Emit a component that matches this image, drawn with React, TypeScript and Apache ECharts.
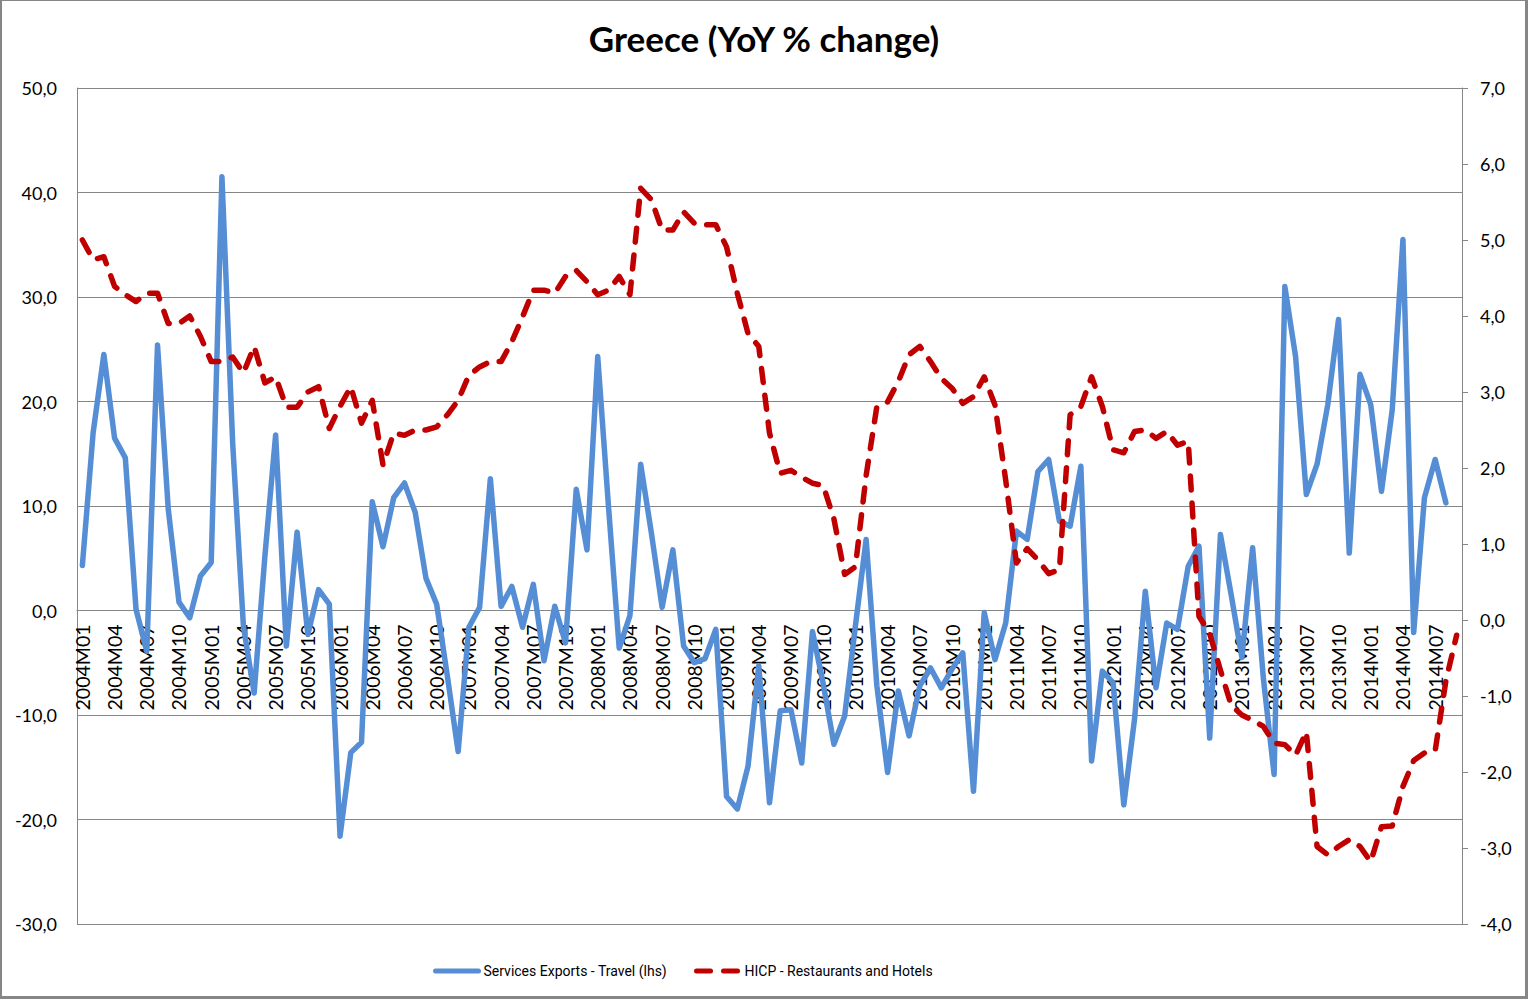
import React, { useEffect, useRef } from "react";
import * as echarts from "echarts";

// Monthly categories 2004M01 .. 2014M09
const START_YEAR = 2004;
const MONTH_COUNT = 129;
const categories: string[] = [];
for (let k = 0; k < MONTH_COUNT; k++) {
  const y = START_YEAR + Math.floor(k / 12);
  const m = (k % 12) + 1;
  categories.push(`${y}M${m < 10 ? "0" : ""}${m}`);
}

// Services Exports - Travel, YoY % (left axis), 2004M01 .. 2014M08
const travelExports = [
  4.3, 17.0, 24.5, 16.5, 14.6, 0.1, -3.9, 25.4, 9.7, 0.8, -0.7, 3.3,
  4.6, 41.5, 16.0, -1.5, -7.9, 5.2, 16.8, -3.4, 7.5, -2.3, 2.0, 0.6,
  -21.6, -13.6, -12.6, 10.4, 6.1, 10.8, 12.2, 9.4, 3.1, 0.6, -6.3, -13.5,
  -1.6, 0.3, 12.6, 0.4, 2.3, -1.6, 2.5, -4.8, 0.4, -3.1, 11.6, 5.8,
  24.3, 10.0, -3.6, -0.5, 14.0, 7.4, 0.3, 5.8, -3.4, -5.0, -4.6, -1.8,
  -17.8, -19.0, -14.9, -5.3, -18.4, -9.6, -9.5, -14.6, -2.0, -7.0, -12.8, -10.1,
  -1.5, 6.8, -7.2, -15.5, -7.7, -12.0, -7.2, -5.5, -7.4, -5.6, -4.05, -17.3,
  -0.2, -4.7, -1.2, 7.6, 6.8, 13.3, 14.45, 8.55, 8.07, 13.8, -14.4, -5.8,
  -6.9, -18.6, -10.4, 1.85, -7.4, -1.2, -1.8, 4.24, 6.15, -12.2, 7.27, 1.5,
  -4.5, 6.0, -6.5, -15.7, 31.0, 24.3, 11.1, 14.0, 19.7, 27.85, 5.5, 22.6,
  19.7, 11.4, 19.2, 35.5, -2.1, 10.8, 14.45, 10.3,
];

// HICP - Restaurants and Hotels, YoY % (right axis), 2004M01 .. 2014M09
const hicpRestaurants = [
  5.0, 4.74, 4.78, 4.39, 4.28, 4.19, 4.3, 4.3, 3.9, 3.9, 4.0, 3.73,
  3.4, 3.4, 3.46, 3.25, 3.6, 3.12, 3.2, 2.8, 2.8, 3.0, 3.07, 2.52,
  2.81, 3.07, 2.59, 2.89, 2.04, 2.46, 2.43, 2.5, 2.5, 2.54, 2.7, 2.89,
  3.22, 3.33, 3.4, 3.4, 3.66, 3.99, 4.34, 4.34, 4.3, 4.52, 4.6, 4.45,
  4.28, 4.34, 4.52, 4.28, 5.68, 5.53, 5.13, 5.13, 5.37, 5.22, 5.2, 5.2,
  4.91, 4.3, 3.77, 3.6, 2.46, 1.93, 1.97, 1.88, 1.8, 1.77, 1.33, 0.6,
  0.7, 1.9, 2.81, 2.87, 3.14, 3.49, 3.6, 3.4, 3.18, 3.05, 2.85, 2.94,
  3.2, 2.83, 1.84, 0.75, 0.94, 0.79, 0.61, 0.66, 2.7, 2.81, 3.2, 2.81,
  2.24, 2.2, 2.48, 2.5, 2.39, 2.48, 2.3, 2.35, 0.05, -0.18, -0.66, -1.12,
  -1.25, -1.32, -1.4, -1.62, -1.64, -1.78, -1.47, -2.98, -3.09, -2.98, -2.89, -2.98,
  -3.18, -2.72, -2.71, -2.19, -1.85, -1.75, -1.72, -0.8, -0.2,
];

const TITLE = "Greece (YoY % change)";
const SERIES_TRAVEL = "Services Exports - Travel (lhs)";
const SERIES_HICP = "HICP - Restaurants and Hotels";

const leftAxisRange = { min: -30, max: 50, interval: 10 };
const rightAxisRange = { min: -4, max: 7, interval: 1 };

const fmt = (v: number) => v.toFixed(1).replace(".", ",");

const FONT = "Lato, 'Open Sans', sans-serif";
const GRID_COLOR = "#868686";
const BLUE = "#558ED5";
const RED = "#C00000";

const GRID_TOP = 88;
const GRID_BOTTOM = 75;
const CHART_H = 999;

export default function App() {
  const ref = useRef<HTMLDivElement>(null);

  useEffect(() => {
    if (!ref.current) return;
    const chart = echarts.init(ref.current, undefined, { renderer: "svg" });
    // distance from the plot bottom up to the left axis' zero line
    const plotH = CHART_H - GRID_TOP - GRID_BOTTOM;
    const zeroOffset =
      (plotH * (0 - leftAxisRange.min)) / (leftAxisRange.max - leftAxisRange.min);
    chart.setOption({
      animation: false,
      backgroundColor: "#ffffff",
      title: {
        text: TITLE,
        left: "center",
        top: 15,
        textStyle: {
          fontFamily: FONT,
          fontWeight: "bold",
          fontSize: 35,
          color: "#000000",
        },
      },
      legend: {
        left: 428,
        top: 959,
        itemWidth: 43,
        itemHeight: 14,
        itemGap: 27,
        itemStyle: { opacity: 0 },
        lineStyle: { width: 5 },
        textStyle: {
          fontFamily: "'Liberation Sans Narrow', Roboto, sans-serif",
          fontSize: 14,
          color: "#000000",
        },
        data: [SERIES_TRAVEL, SERIES_HICP],
      },
      grid: { left: 77, right: 66, top: GRID_TOP, bottom: GRID_BOTTOM, containLabel: false },
      xAxis: {
        type: "category",
        data: categories,
        boundaryGap: true,
        position: "bottom",
        offset: -zeroOffset,
        z: 0,
        axisLine: {
          show: true,
          onZero: false,
          lineStyle: { color: GRID_COLOR, width: 1 },
        },
        axisTick: { show: false },
        axisLabel: {
          interval: 2,
          rotate: 90,
          margin: 14,
          fontFamily: FONT,
          fontSize: 19.5,
          color: "#000000",
        },
        splitLine: { show: false },
      },
      yAxis: [
        {
          type: "value",
          position: "left",
          min: leftAxisRange.min,
          max: leftAxisRange.max,
          interval: leftAxisRange.interval,
          z: 0,
          axisLine: { show: true, lineStyle: { color: GRID_COLOR, width: 1 } },
          axisTick: { show: false },
          axisLabel: {
            formatter: fmt,
            margin: 20,
            fontFamily: FONT,
            fontSize: 18,
            color: "#000000",
          },
          splitLine: { show: true, lineStyle: { color: GRID_COLOR, width: 1 } },
        },
        {
          type: "value",
          position: "right",
          min: rightAxisRange.min,
          max: rightAxisRange.max,
          interval: rightAxisRange.interval,
          z: 0,
          axisLine: { show: true, lineStyle: { color: GRID_COLOR, width: 1 } },
          axisTick: {
            show: true,
            inside: false,
            length: 6,
            lineStyle: { color: GRID_COLOR, width: 1 },
          },
          axisLabel: {
            formatter: fmt,
            margin: 18,
            fontFamily: FONT,
            fontSize: 18,
            color: "#000000",
          },
          splitLine: { show: false },
        },
      ],
      series: [
        {
          name: SERIES_TRAVEL,
          type: "line",
          yAxisIndex: 0,
          data: travelExports,
          showSymbol: false,
          symbol: "none",
          color: BLUE,
          lineStyle: { color: BLUE, width: 5.5, cap: "round", join: "round" },
          z: 5,
        },
        {
          name: SERIES_HICP,
          type: "line",
          yAxisIndex: 1,
          data: hicpRestaurants,
          showSymbol: false,
          symbol: "none",
          color: RED,
          lineStyle: {
            color: RED,
            width: 5.5,
            type: [14, 13],
            cap: "round",
            join: "round",
          },
          z: 6,
        },
      ],
    });
    return () => chart.dispose();
  }, []);

  return (
    <div style={{ position: "fixed", left: 0, top: 0, width: 1528, height: CHART_H, background: "#fff" }}>
      <div ref={ref} style={{ position: "absolute", left: 0, top: 0, width: 1528, height: CHART_H }} />
      <div
        style={{
          position: "absolute",
          left: 0,
          top: 0,
          width: 1528,
          height: CHART_H,
          boxSizing: "border-box",
          borderLeft: "2px solid #868686",
          borderRight: "3px solid #868686",
          borderBottom: "3px solid #868686",
          borderTop: "1px solid #868686",
          pointerEvents: "none",
        }}
      />
    </div>
  );
}
